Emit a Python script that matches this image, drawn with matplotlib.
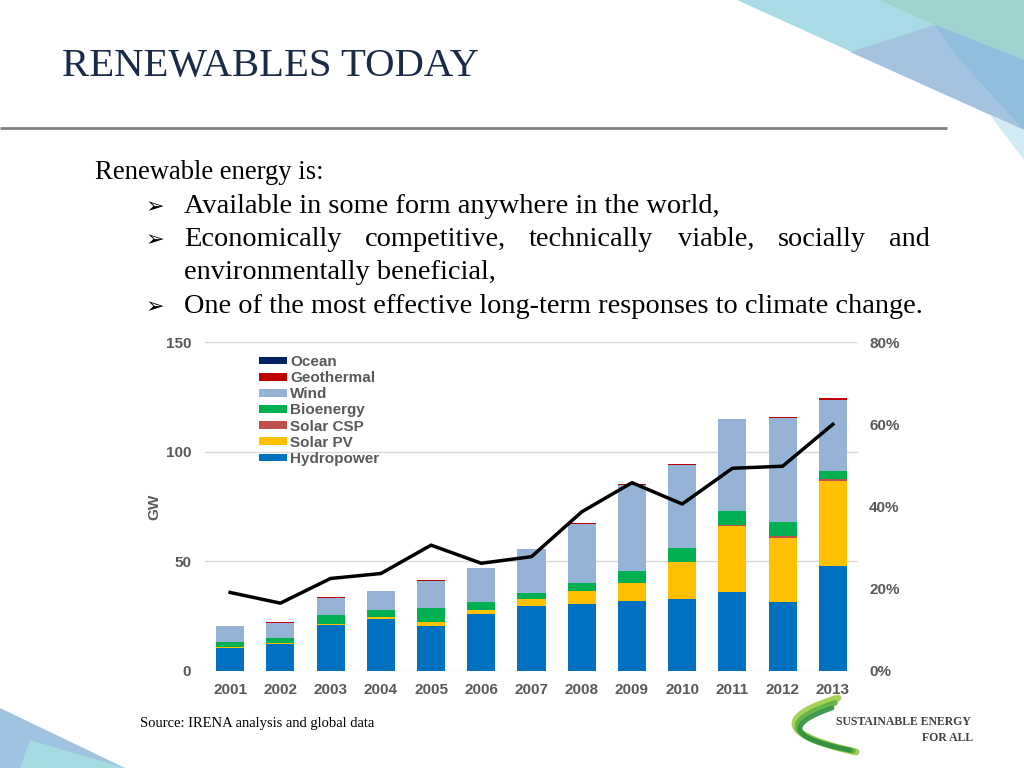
import matplotlib
matplotlib.use("Agg")
import matplotlib.pyplot as plt
import numpy as np
from matplotlib.patches import Polygon, Patch

# ---------------- data ----------------
years = ["2001", "2002", "2003", "2004", "2005", "2006", "2007",
         "2008", "2009", "2010", "2011", "2012", "2013"]
hydropower = [10.5, 12.2, 21.0, 23.6, 20.7, 26.0, 29.8, 30.4, 32.1, 33.0, 36.2, 31.6, 48.0]
solar_pv   = [0.3, 0.4, 0.5, 1.0, 1.5, 1.7, 2.8, 6.0, 7.8, 16.5, 30.0, 29.0, 38.8]
solar_csp  = [0.0, 0.0, 0.0, 0.0, 0.0, 0.1, 0.1, 0.1, 0.2, 0.3, 0.4, 0.9, 0.9]
bioenergy  = [2.4, 2.3, 4.0, 3.2, 6.5, 3.6, 2.9, 3.8, 5.5, 6.2, 6.4, 6.3, 3.3]
wind       = [7.1, 7.1, 8.0, 8.6, 12.3, 15.4, 19.8, 26.7, 39.1, 37.9, 41.7, 47.7, 32.4]
geothermal = [0.2, 0.2, 0.3, 0.3, 0.3, 0.2, 0.3, 0.5, 0.4, 0.4, 0.3, 0.4, 1.0]
ocean      = [0.0, 0.0, 0.0, 0.0, 0.0, 0.0, 0.0, 0.0, 0.0, 0.0, 0.0, 0.0, 0.1]
share_pct  = [19.1, 16.5, 22.5, 23.7, 30.6, 26.2, 27.8, 38.7, 45.8, 40.6, 49.3, 49.8, 60.0]

series_names = ["Hydropower", "Solar PV", "Solar CSP", "Bioenergy", "Wind", "Geothermal", "Ocean"]
series_vals = [hydropower, solar_pv, solar_csp, bioenergy, wind, geothermal, ocean]
series_cols = ["#0070C0", "#FFC000", "#C0504D", "#00B050", "#95B3D7", "#C00000", "#002060"]

left_ticks = [0, 50, 100, 150]
right_ticks = [0, 20, 40, 60, 80]

title = "RENEWABLES TODAY"
intro = "Renewable energy is:"
bullet1 = "Available in some form anywhere in the world,"
bullet2_words = ["Economically", "competitive,", "technically", "viable,", "socially", "and"]
bullet2_cont = "environmentally beneficial,"
bullet3 = "One of the most effective long-term responses to climate change."
source = "Source: IRENA analysis and global data"

# ---------------- figure ----------------
W, H = 1024, 768
fig = plt.figure(figsize=(W / 100, H / 100), dpi=100)
fig.patch.set_facecolor("white")

bg = fig.add_axes([0, 0, 1, 1])
bg.set_xlim(0, W)
bg.set_ylim(H, 0)
bg.axis("off")

# decorative polygons top-right
bg.add_patch(Polygon([(737, 0), (1024, 0), (1024, 130)], closed=True, color="#a9dbe6", lw=0))
bg.add_patch(Polygon([(880, 0), (1024, 0), (1024, 60), (935, 25)], closed=True, color="#9fd3d0", lw=0))
bg.add_patch(Polygon([(850, 52), (935, 25), (1024, 60), (1024, 130)], closed=True, color="#a3c3e0", lw=0))
bg.add_patch(Polygon([(935, 25), (1024, 60), (1024, 130), (960, 60)], closed=True, color="#8fbedc", lw=0))
bg.add_patch(Polygon([(990, 115), (1024, 130), (1024, 160)], closed=True, color="#d2ebf4", lw=0))
# bottom-left
bg.add_patch(Polygon([(0, 708), (125, 768), (0, 768)], closed=True, color="#9fc3e0", lw=0))
bg.add_patch(Polygon([(30, 740), (125, 768), (20, 768)], closed=True, color="#a6dbe2", lw=0))

# header line
bg.plot([0, 947], [128, 128], color="#808080", lw=2, solid_capstyle="butt")

serif = ["Liberation Serif", "DejaVu Serif"]
bg.text(62, 76, title, fontsize=29.3, family=serif, color="#1b2a47", va="baseline", ha="left")

fs = 20.4
bg.text(95, 179, intro, fontsize=19.2, family=serif, va="baseline", color="black")
arrow_fam = ["DejaVu Sans"]
for yb in (213, 246, 313):
    bg.text(146, yb, "\u27A2", fontsize=16, family=arrow_fam, va="baseline", color="black")
bg.text(184, 213, bullet1, fontsize=fs, family=serif, va="baseline")
xs = [184, 365, 529, 678, 778, 889]
for x, w in zip(xs, bullet2_words):
    bg.text(x, 246, w, fontsize=fs, family=serif, va="baseline")
bg.text(184, 279, bullet2_cont, fontsize=fs, family=serif, va="baseline")
bg.text(184, 313, bullet3, fontsize=fs, family=serif, va="baseline")

bg.text(140, 727, source, fontsize=10.5, family=serif, va="baseline")

# logo swoosh
s = np.linspace(0, 1, 80)
for k, (lw_, c) in enumerate([(5, "#9ccc45"), (4, "#5cb040"), (3.5, "#2f9040")]):
    x0, y0 = 838 - k * 3, 698 + k * 5
    cxp, cyp = 744 + k * 8, 727 + k * 3
    x1, y1 = 856 - k * 3, 752 - k * 1
    xb = (1 - s) ** 2 * x0 + 2 * (1 - s) * s * cxp + s ** 2 * x1
    yb = (1 - s) ** 2 * y0 + 2 * (1 - s) * s * cyp + s ** 2 * y1
    bg.plot(xb, yb, color=c, lw=lw_, solid_capstyle="round", alpha=0.9)
bg.text(836, 725, "SUSTAINABLE ENERGY", fontsize=8.5, family=serif, weight="bold",
        color="#404040", va="baseline")
bg.text(973, 741, "FOR ALL", fontsize=8.5, family=serif, weight="bold",
        color="#404040", va="baseline", ha="right")

# ---------------- chart ----------------
sans = ["Liberation Sans", "DejaVu Sans"]
ax = fig.add_axes([205 / W, 97 / H, 653 / W, 329 / H])
x = np.arange(len(years))
bottom = np.zeros(len(years))
for name, vals, col in zip(series_names, series_vals, series_cols):
    v = np.array(vals, dtype=float)
    ax.bar(x, v, bottom=bottom, width=0.56, color=col, label=name, zorder=3, lw=0)
    bottom += v

ax.set_xlim(-0.5, len(years) - 0.5)
ax.set_ylim(0, 150)
ax.set_yticks(left_ticks)
ax.set_xticks(x)
ax.set_xticklabels(years)
ax.grid(axis="y", color="#d9d9d9", lw=1, zorder=0)
for sp in ax.spines.values():
    sp.set_visible(False)
tick_col = "#595959"
ax.tick_params(axis="y", length=0, pad=10, labelsize=11, labelcolor=tick_col)
ax.tick_params(axis="x", length=0, pad=9, labelsize=11, labelcolor=tick_col)
for lab in ax.get_xticklabels() + ax.get_yticklabels():
    lab.set_fontweight("bold")
    lab.set_family(sans)
ax.set_ylabel("GW", fontsize=11, color=tick_col, fontweight="bold", labelpad=3, family=sans)
ax.patch.set_alpha(0)

ax2 = ax.twinx()
ax2.plot(x, share_pct, color="black", lw=2.5, zorder=5)
ax2.set_ylim(0, 80)
ax2.set_yticks(right_ticks)
ax2.set_yticklabels([f"{v}%" for v in right_ticks])
for sp in ax2.spines.values():
    sp.set_visible(False)
ax2.tick_params(axis="y", length=0, pad=8, labelsize=11, labelcolor=tick_col)
for lab in ax2.get_yticklabels():
    lab.set_fontweight("bold")
    lab.set_family(sans)

handles = [Patch(facecolor=c, edgecolor="none") for c in series_cols][::-1]
labels = series_names[::-1]
leg = ax.legend(handles, labels, loc="upper left", bbox_to_anchor=(259 / W, 1 - 355 / H),
                bbox_transform=fig.transFigure, frameon=False,
                prop={"family": sans, "size": 11, "weight": "bold"},
                handlelength=1.85, handleheight=0.4, handletextpad=0.2, labelspacing=0.14,
                borderaxespad=0, borderpad=0)
for txt in leg.get_texts():
    txt.set_color(tick_col)
leg.set_zorder(10)

fig.savefig("out.png", dpi=100)
